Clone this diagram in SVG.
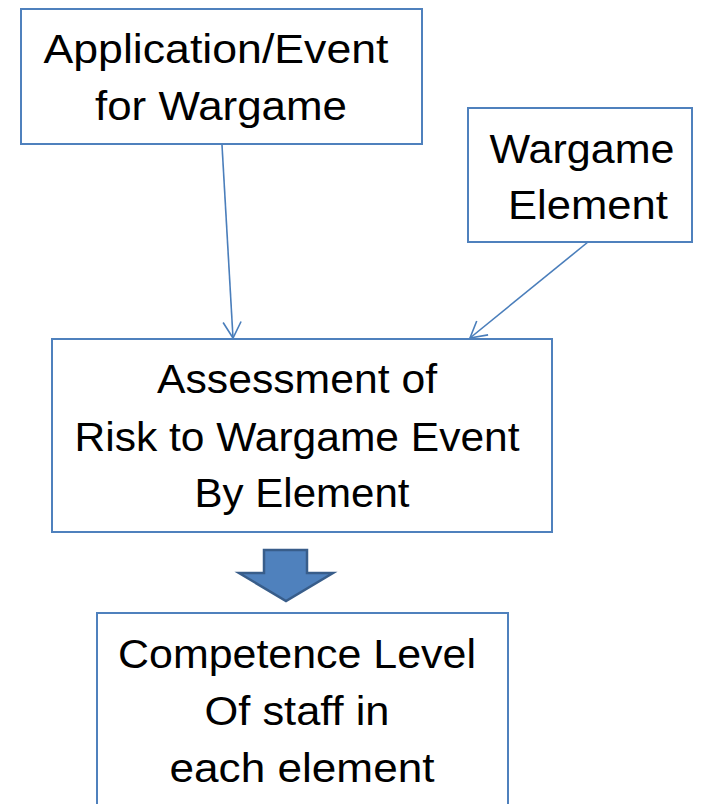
<svg xmlns="http://www.w3.org/2000/svg" width="708" height="804" viewBox="0 0 708 804">
<defs>
<style>
.box{fill:#fff;stroke:#4f81bd;stroke-width:2}
.t{font-family:"Liberation Sans",Arial,sans-serif;font-size:41px;fill:#000;text-anchor:middle}
.c{stroke:#4a7ebb;stroke-width:1.6;fill:none}
</style>
<marker id="ah" viewBox="0 0 20 20" refX="18" refY="10" markerWidth="20" markerHeight="20" markerUnits="userSpaceOnUse" orient="auto">
<path d="M2,1 L18,10 L2,19" fill="none" stroke="#4a7ebb" stroke-width="1.6"/>
</marker>
</defs>
<rect width="708" height="804" fill="#fff"/>
<g id="connectors">
<line class="c" x1="222" y1="145" x2="233" y2="338" marker-end="url(#ah)"/>
<line class="c" x1="588" y1="242" x2="470" y2="338" marker-end="url(#ah)"/>
<polygon points="264,550 307,550 307,573 333,573 286,601 239,573 264,573" fill="#4f81bd" stroke="#385d8a" stroke-width="2.5"/>
</g>
<g id="app">
<rect class="box" x="21" y="9" width="401" height="135"/>
<text class="t" x="216" y="63" textLength="345" lengthAdjust="spacingAndGlyphs">Application/Event</text>
<text class="t" x="221" y="120" textLength="252" lengthAdjust="spacingAndGlyphs">for Wargame</text>
</g>
<g id="element">
<rect class="box" x="468" y="108" width="224" height="134"/>
<text class="t" x="582" y="163" textLength="185" lengthAdjust="spacingAndGlyphs">Wargame</text>
<text class="t" x="588" y="219" textLength="160" lengthAdjust="spacingAndGlyphs">Element</text>
</g>
<g id="assessment">
<rect class="box" x="52" y="339" width="500" height="193"/>
<text class="t" x="297" y="393" textLength="280" lengthAdjust="spacingAndGlyphs">Assessment of</text>
<text class="t" x="297" y="451" textLength="445" lengthAdjust="spacingAndGlyphs">Risk to Wargame Event</text>
<text class="t" x="302" y="507" textLength="215" lengthAdjust="spacingAndGlyphs">By Element</text>
</g>
<g id="competence">
<rect class="box" x="97" y="613" width="411" height="200"/>
<text class="t" x="297" y="668" textLength="358" lengthAdjust="spacingAndGlyphs">Competence Level</text>
<text class="t" x="297" y="725" textLength="185" lengthAdjust="spacingAndGlyphs">Of staff in</text>
<text class="t" x="302" y="782" textLength="265" lengthAdjust="spacingAndGlyphs">each element</text>
</g>
</svg>
